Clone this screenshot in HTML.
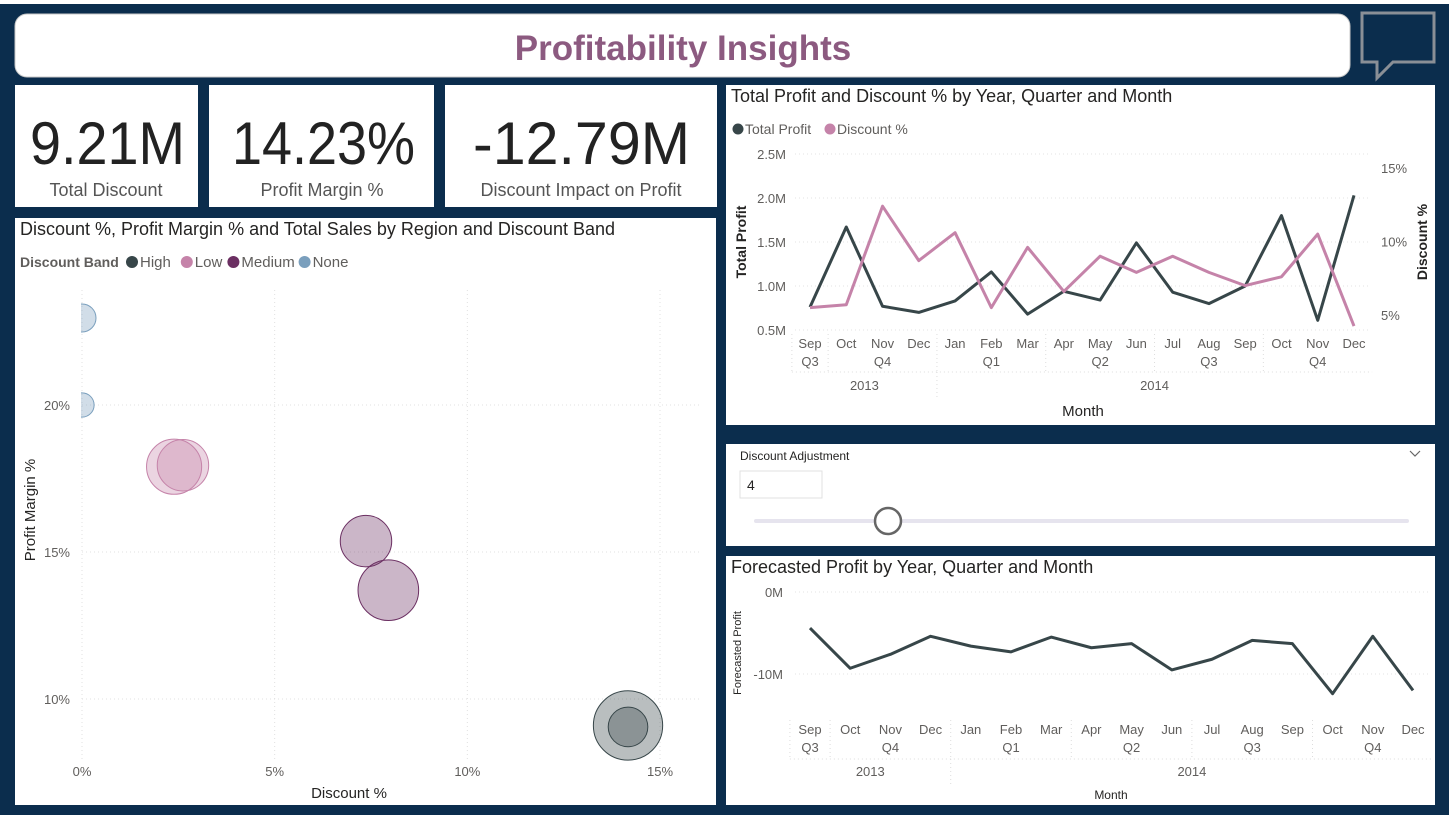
<!DOCTYPE html>
<html><head><meta charset="utf-8">
<style>
html,body{margin:0;padding:0;width:1449px;height:815px;overflow:hidden;background:#0b2d4d;font-family:"Liberation Sans",sans-serif;}
svg text{font-family:"Liberation Sans",sans-serif;}
</style></head>
<body>
<svg id="root" width="1449" height="815" xmlns="http://www.w3.org/2000/svg">
<rect x="0" y="0" width="1449" height="815" fill="#0b2d4d"/>
<rect x="0" y="0" width="1449" height="4" fill="#ffffff"/>
<g>
<rect x="15" y="14" width="1335" height="63" rx="12" fill="#ffffff" stroke="#c8c8c8"/>
<text x="683" y="60" text-anchor="middle" font-size="35" font-weight="bold" fill="#8c5a80">Profitability Insights</text>
</g>
<g>
<path d="M1362 13 H1434 V62 H1393 L1377 78 V62 H1362 Z" fill="none" stroke="#8a8f96" stroke-width="3"/>
</g>
<g>
<rect x="15" y="85" width="183" height="122" fill="#fff"/>
<text x="30" y="164" font-size="60" fill="#222" textLength="155" lengthAdjust="spacingAndGlyphs">9.21M</text>
<text x="106" y="196" text-anchor="middle" font-size="18" fill="#555">Total Discount</text>
</g>
<g>
<rect x="209" y="85" width="225" height="122" fill="#fff"/>
<text x="232" y="164" font-size="60" fill="#222" textLength="183" lengthAdjust="spacingAndGlyphs">14.23%</text>
<text x="322" y="196" text-anchor="middle" font-size="18" fill="#555">Profit Margin %</text>
</g>
<g>
<rect x="445" y="85" width="272" height="122" fill="#fff"/>
<text x="473" y="164" font-size="60" fill="#222" textLength="217" lengthAdjust="spacingAndGlyphs">-12.79M</text>
<text x="581" y="196" text-anchor="middle" font-size="18" fill="#555">Discount Impact on Profit</text>
</g>

<g id="scatter">
<rect x="15" y="218" width="701" height="587" fill="#fff"/>
<text x="20" y="235" font-size="18" fill="#252423">Discount %, Profit Margin % and Total Sales by Region and Discount Band</text>
<text x="20" y="267" font-size="14" font-weight="bold" fill="#605e5c">Discount Band</text>
<g id="scLegend"></g>
<text x="349" y="798" text-anchor="middle" font-size="15" fill="#252423">Discount %</text>
<text transform="translate(35,510) rotate(-90)" text-anchor="middle" font-size="15" fill="#252423">Profit Margin %</text>
</g>

<g id="line1">
<rect x="726" y="85" width="709" height="340" fill="#fff"/>
<text x="731" y="102" font-size="18" fill="#252423">Total Profit and Discount % by Year, Quarter and Month</text>
<circle cx="738" cy="129" r="5.5" fill="#374649"/>
<text x="745" y="134" font-size="14" fill="#605e5c">Total Profit</text>
<circle cx="830" cy="129" r="5.5" fill="#c583a9"/>
<text x="837" y="134" font-size="14" fill="#605e5c">Discount %</text>
<text transform="translate(746,242) rotate(-90)" text-anchor="middle" font-size="14" font-weight="bold" fill="#252423">Total Profit</text>
<text transform="translate(1427,242) rotate(-90)" text-anchor="middle" font-size="14" font-weight="bold" fill="#252423">Discount %</text>
<text x="1083" y="416" text-anchor="middle" font-size="15" fill="#252423">Month</text>
</g>

<g>
<rect x="726" y="444" width="709" height="102" fill="#fff"/>
<text x="740" y="460" font-size="12" fill="#252423">Discount Adjustment</text>
<path d="M1410 451 L1415 456 L1420 451" fill="none" stroke="#666" stroke-width="1.2"/>
<rect x="740" y="471" width="82" height="27" fill="#fff" stroke="#e1e1e1"/>
<text x="747" y="490" font-size="14" fill="#252423">4</text>
<rect x="754" y="519" width="655" height="4" rx="2" fill="#e6e4ee"/>
<circle cx="888" cy="521" r="13" fill="#fff" stroke="#666" stroke-width="2.5"/>
</g>

<g id="line2">
<rect x="726" y="556" width="709" height="249" fill="#fff"/>
<text x="731" y="573" font-size="18" fill="#252423">Forecasted Profit by Year, Quarter and Month</text>
<text transform="translate(741,653) rotate(-90)" text-anchor="middle" font-size="11" fill="#252423">Forecasted Profit</text>
<text x="1111" y="799" text-anchor="middle" font-size="12" fill="#252423">Month</text>
</g>
</svg>
<script>
const NS="http://www.w3.org/2000/svg";
// Scatter data
const bands=["None","None","Low","Low","Medium","Medium","High","High"];
const discountPct=[0,0,2.39,2.62,7.37,7.95,14.17,14.17];
const marginPct=[22.96,20.0,17.9,17.95,15.37,13.7,9.1,9.05];
const totalSales=[16,12,62,54,54,75,98,32];
const legendBands=["High","Low","Medium","None"];
const xTicks=[0,5,10,15];
const yTicks=[10,15,20];
// Line chart data
const months=["Sep","Oct","Nov","Dec","Jan","Feb","Mar","Apr","May","Jun","Jul","Aug","Sep","Oct","Nov","Dec"];
const totalProfit=[0.76,1.67,0.77,0.70,0.83,1.16,0.68,0.94,0.84,1.49,0.93,0.80,1.00,1.80,0.61,2.03];
const discountSeries=[5.5,5.7,12.4,8.7,10.6,5.5,9.6,6.6,9.0,7.9,9.0,7.9,7.0,7.6,10.5,4.25];
const profitTicks=[0.5,1.0,1.5,2.0,2.5];
const discTicks=[5,10,15];
const forecast=[-4.4,-9.3,-7.6,-5.4,-6.6,-7.3,-5.5,-6.8,-6.3,-9.5,-8.2,-5.9,-6.3,-12.4,-5.4,-12.0];
const forecastTicks=[0,-10];

const colors={High:"#374649",Low:"#c583a9",Medium:"#6b2f62",None:"#7a9fbd"};
function mk(tag,attrs,parent){const e=document.createElementNS(NS,tag);for(const k in attrs)e.setAttribute(k,attrs[k]);parent.appendChild(e);return e;}

// ---- scatter
const sc=document.getElementById('scatter');
const sx=v=>82+v*(578/15);
const sy=v=>405-(v-20)*(147/5);
const sr=v=>3.5*Math.sqrt(v);
let lx=132;
legendBands.forEach(b=>{
  const c=mk('circle',{cx:lx,cy:262,r:6,fill:colors[b]},sc);
  
  
  const t=mk('text',{x:lx+8,y:267,'font-size':15,fill:'#605e5c'},sc);
  t.textContent=b;
  
  
  lx+=8+b.length*8.2+14;
});
xTicks.forEach(v=>{
  const l=mk('line',{x1:sx(v),x2:sx(v),y1:290,y2:760,stroke:'#e0e0e0','stroke-dasharray':'1 3'},sc);
  
  
  const t=mk('text',{x:sx(v),y:776,'text-anchor':'middle','font-size':13,fill:'#605e5c'},sc);
  t.textContent=v+'%';
  
  
});
yTicks.forEach(v=>{
  const l=mk('line',{x1:82,x2:700,y1:sy(v),y2:sy(v),stroke:'#e0e0e0','stroke-dasharray':'1 3'},sc);
  
  
  const t=mk('text',{x:70,y:sy(v)+5,'text-anchor':'end','font-size':13,fill:'#605e5c'},sc);
  t.textContent=v+'%';
  
  
});
const defs=mk('defs',{},sc);
const cp=mk('clipPath',{id:'scClip'},defs);
mk('rect',{x:81,y:280,width:630,height:490},cp);
const bg=mk('g',{'clip-path':'url(#scClip)'},sc);
bands.forEach((b,i)=>{
  const c=mk('circle',{cx:sx(discountPct[i]),cy:sy(marginPct[i]),r:sr(totalSales[i]),fill:colors[b],'fill-opacity':0.35,stroke:colors[b],'stroke-width':1},bg);
  
  
});

// ---- month axis helper
function monthAxis(g,x0,step,yM,yQ,yY,sepTop,sepBot,yearSep){
  const quarters=[["Q3",0,0],["Q4",1,3],["Q1",4,6],["Q2",7,9],["Q3",10,12],["Q4",13,15]];
  months.forEach((m,i)=>{
    const t=mk('text',{x:x0+i*step,y:yM,'text-anchor':'middle','font-size':13,fill:'#605e5c'},g);
    t.textContent=m;
    
    
  });
  quarters.forEach(q=>{
    const t=mk('text',{x:x0+(q[1]+q[2])/2*step,y:yQ,'text-anchor':'middle','font-size':13,fill:'#605e5c'},g);
    t.textContent=q[0];
    
    
    const l=mk('line',{x1:x0+(q[1]-0.5)*step,x2:x0+(q[1]-0.5)*step,y1:sepTop,y2:sepBot,stroke:'#ddd','stroke-dasharray':'1 3'},g);
    
    
  });
  const yl=mk('line',{x1:x0-0.5*step,x2:x0+15.5*step,y1:sepBot,y2:sepBot,stroke:'#ddd','stroke-dasharray':'1 3'},g);
  
  
  [["2013",0,3],["2014",4,15]].forEach(y=>{
    const t=mk('text',{x:x0+(y[1]+y[2])/2*step,y:yY,'text-anchor':'middle','font-size':13,fill:'#605e5c'},g);
    t.textContent=y[0];
    
    
  });
  const l2=mk('line',{x1:x0+3.5*step,x2:x0+3.5*step,y1:sepBot,y2:yearSep,stroke:'#ddd','stroke-dasharray':'1 3'},g);
  
  
}

// ---- line chart 1
const l1=document.getElementById('line1');
const step1=(1354-810)/15;
const lxs=i=>810+i*step1;
const py=v=>330-(v-0.5)*88;
const dy=v=>315-(v-5)*(73.5/5);
profitTicks.forEach(v=>{
  const l=mk('line',{x1:795,x2:1370,y1:py(v),y2:py(v),stroke:'#e3e3e3','stroke-dasharray':'1 3'},l1);
  
  
  const t=mk('text',{x:786,y:py(v)+5,'text-anchor':'end','font-size':13,fill:'#605e5c'},l1);
  t.textContent=v.toFixed(1)+'M';
  
  
});
discTicks.forEach(v=>{
  const t=mk('text',{x:1381,y:dy(v)+5,'font-size':13,fill:'#605e5c'},l1);
  t.textContent=v+'%';
  
  
});
monthAxis(l1,810,step1,348,366,390,334,372,398);
const pp=mk('polyline',{points:totalProfit.map((v,i)=>lxs(i)+','+py(v)).join(' '),fill:'none',stroke:'#374649','stroke-width':3,'stroke-linejoin':'round'},l1);


const dp=mk('polyline',{points:discountSeries.map((v,i)=>lxs(i)+','+dy(v)).join(' '),fill:'none',stroke:'#c583a9','stroke-width':3,'stroke-linejoin':'round'},l1);



// ---- forecast
const l2g=document.getElementById('line2');
const step2=(1413-810)/15;
const fx=i=>810+i*step2;
const fy=v=>592-v*8.2;
forecastTicks.forEach(v=>{
  const l=mk('line',{x1:795,x2:1430,y1:fy(v),y2:fy(v),stroke:'#e3e3e3','stroke-dasharray':'1 3'},l2g);
  
  
  const t=mk('text',{x:783,y:fy(v)+5,'text-anchor':'end','font-size':13,fill:'#605e5c'},l2g);
  t.textContent=v+'M';
  
  
});
monthAxis(l2g,810,step2,734,752,776,720,759,785);
const fp=mk('polyline',{points:forecast.map((v,i)=>fx(i)+','+fy(v)).join(' '),fill:'none',stroke:'#374649','stroke-width':3,'stroke-linejoin':'round'},l2g);


</script>
</body></html>
